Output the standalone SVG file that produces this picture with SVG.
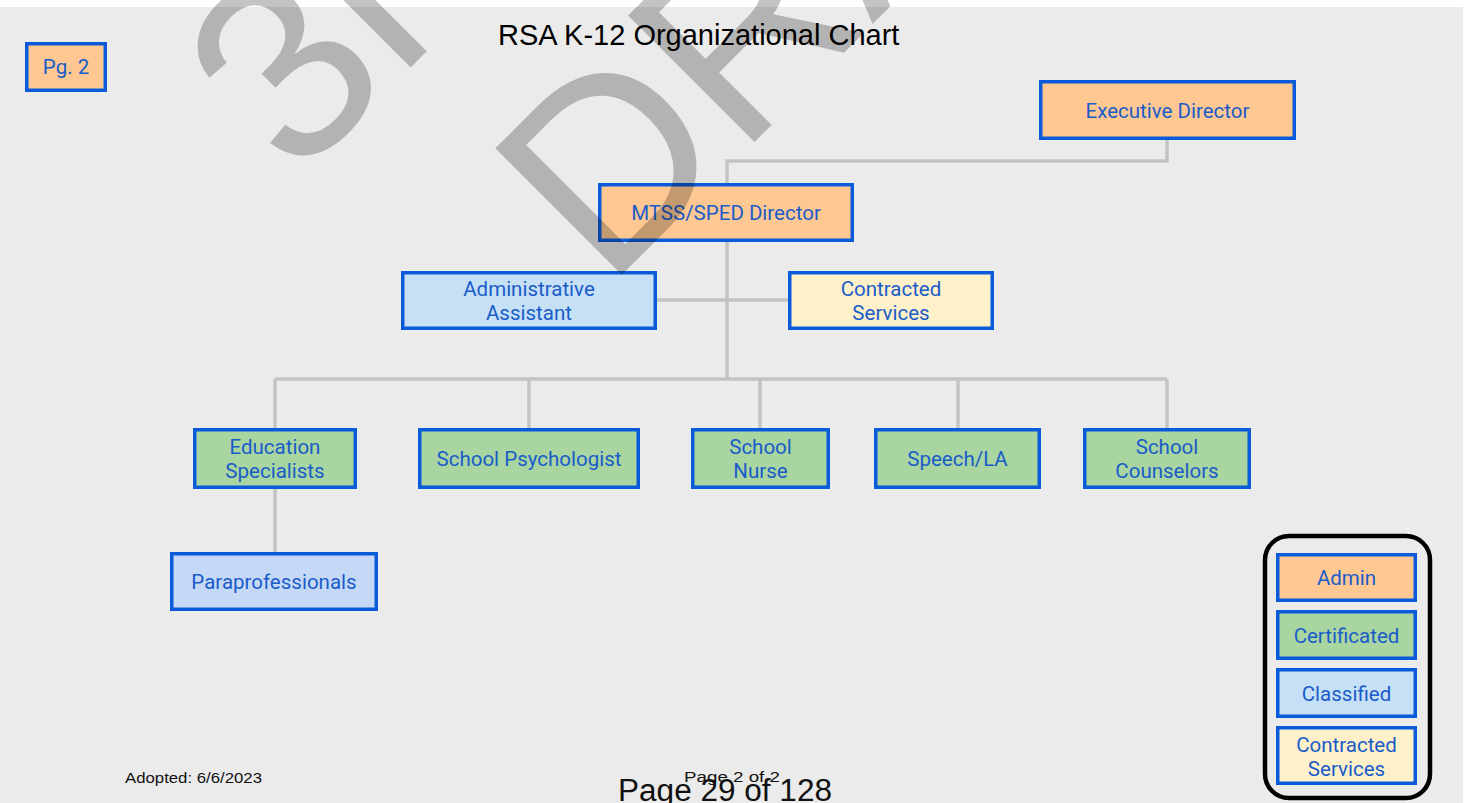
<svg xmlns="http://www.w3.org/2000/svg" width="1472" height="803" viewBox="0 0 1472 803">
<style>
.box{stroke:#0a5bd9;stroke-width:3.5}
.adm{fill:#ffc893}
.cert{fill:#a8d5a0}
.cls{fill:#c6e0f5}
.para{fill:#c5d9f7}
.con{fill:#fef0c9}
.t{font-family:Roboto,"Liberation Sans",sans-serif;font-size:20.5px;fill:#1a5cc9;text-anchor:middle}
.ln{fill:none;stroke:#c3c3c3;stroke-width:3.5}
.foot{font-family:"Liberation Sans",Arial,sans-serif;fill:#111}
.wm{font-family:"Liberation Sans",Arial,sans-serif;font-size:260px;fill:#000;opacity:0.23}
</style>
<rect x="0" y="0" width="1472" height="803" fill="#ffffff"/>
<rect x="0" y="7" width="1463" height="796" fill="#ebebeb"/>
<text x="498" y="45" font-family="'Liberation Sans',Arial,sans-serif" font-size="29" fill="#000">RSA K-12 Organizational Chart</text>
<g id="connectors">
<path class="ln" d="M1167,140 V161 H727 V183"/>
<path class="ln" d="M727,242 V379"/>
<path class="ln" d="M657,300 H788"/>
<path class="ln" d="M275,379 H1167"/>
<path class="ln" d="M275,379 V428 M529,379 V428 M760,379 V428 M958,379 V428 M1167,379 V428"/>
<path class="ln" d="M275,489 V552"/>
</g>
<g id="pg2"><rect class="box adm" x="26.75" y="43.75" width="78.5" height="46.5"/><text class="t" x="66" y="74">Pg. 2</text></g>
<g id="exec"><rect class="box adm" x="1040.75" y="81.75" width="253.5" height="56.5"/><text class="t" x="1167.5" y="117.5">Executive Director</text></g>
<g id="mtss"><rect class="box adm" x="599.75" y="184.75" width="252.5" height="55.5"/><text class="t" x="726" y="220">MTSS/SPED Director</text></g>
<g id="adminasst"><rect class="box cls" x="402.75" y="272.75" width="252.5" height="55.5"/><text class="t" x="529" y="296">Administrative</text><text class="t" x="529" y="320">Assistant</text></g>
<g id="contracted"><rect class="box con" x="789.75" y="272.75" width="202.5" height="55.5"/><text class="t" x="891" y="296">Contracted</text><text class="t" x="891" y="320">Services</text></g>
<g id="edspec"><rect class="box cert" x="194.75" y="429.75" width="160.5" height="57.5"/><text class="t" x="275" y="453.5">Education</text><text class="t" x="275" y="477.5">Specialists</text></g>
<g id="psych"><rect class="box cert" x="419.75" y="429.75" width="218.5" height="57.5"/><text class="t" x="529" y="466">School Psychologist</text></g>
<g id="nurse"><rect class="box cert" x="692.75" y="429.75" width="135.5" height="57.5"/><text class="t" x="760.5" y="453.5">School</text><text class="t" x="760.5" y="477.5">Nurse</text></g>
<g id="speech"><rect class="box cert" x="875.75" y="429.75" width="163.5" height="57.5"/><text class="t" x="957.5" y="466">Speech/LA</text></g>
<g id="counselors"><rect class="box cert" x="1084.75" y="429.75" width="164.5" height="57.5"/><text class="t" x="1167" y="453.5">School</text><text class="t" x="1167" y="477.5">Counselors</text></g>
<g id="para"><rect class="box para" x="171.75" y="553.75" width="204.5" height="55.5"/><text class="t" x="274" y="589">Paraprofessionals</text></g>
<g id="legend">
<rect x="1265" y="536" width="165" height="262" rx="24" fill="none" stroke="#000" stroke-width="4.5"/>
<rect class="box adm" x="1277.75" y="554.75" width="137.5" height="45.5"/><text class="t" x="1346.5" y="585">Admin</text>
<rect class="box cert" x="1277.75" y="611.75" width="137.5" height="46.5"/><text class="t" x="1346.5" y="642.5">Certificated</text>
<rect class="box cls" x="1277.75" y="669.75" width="137.5" height="46.5"/><text class="t" x="1346.5" y="700.5">Classified</text>
<rect class="box con" x="1277.75" y="727.75" width="137.5" height="55.5"/><text class="t" x="1346.5" y="751.5">Contracted</text><text class="t" x="1346.5" y="775.5">Services</text>
</g>
<text class="foot" x="125" y="783" font-size="14" textLength="137" lengthAdjust="spacingAndGlyphs">Adopted: 6/6/2023</text>
<text class="foot" x="684" y="782" font-size="14" textLength="96" lengthAdjust="spacingAndGlyphs">Page 2 of 2</text>
<text class="foot" x="618" y="801" font-size="31" textLength="214" lengthAdjust="spacingAndGlyphs">Page 29 of 128</text>
<g id="watermark">
<text class="wm" transform="rotate(-45)" x="80" y="338">3rd</text>
<text class="wm" transform="rotate(-45)" x="224" y="634">DRAFT</text>
</g>
</svg>
